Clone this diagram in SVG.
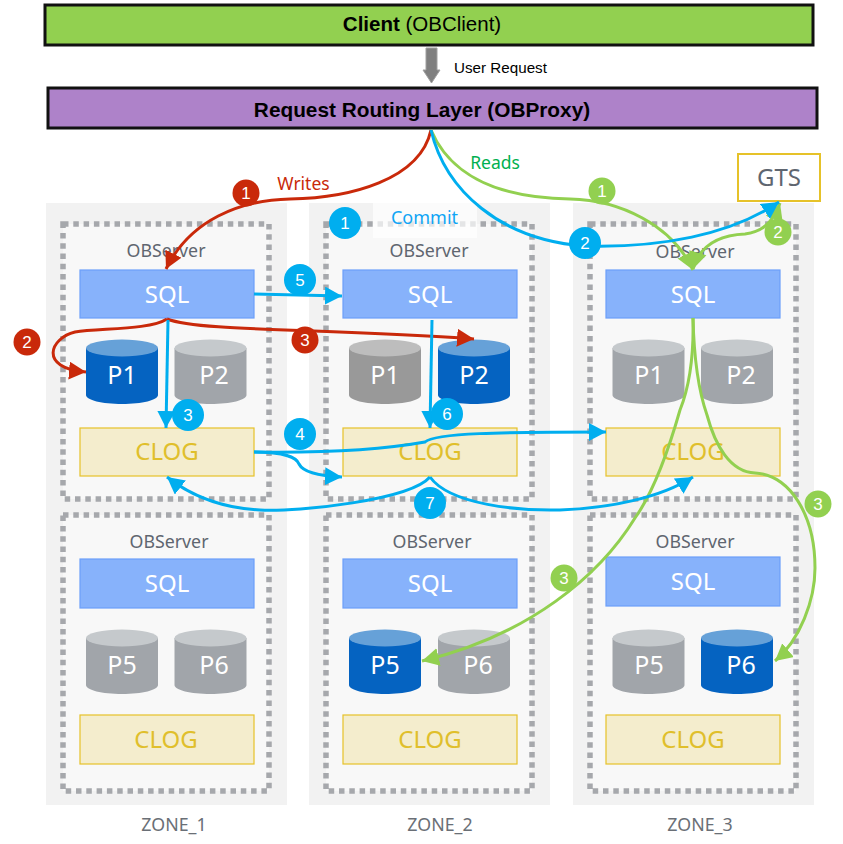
<svg xmlns="http://www.w3.org/2000/svg" width="843" height="844" viewBox="0 0 843 844">
<style>
text{font-family:"Noto Sans","Open Sans","Liberation Sans",sans-serif;text-anchor:middle}
.bar{stroke:#111;stroke-width:3}
.bt{font-family:"Liberation Sans",Arial,sans-serif;fill:#000}
.zone{fill:#f2f2f2}
.srv{fill:#f8f8f8;stroke:#a6a8ac;stroke-width:5.5;stroke-dasharray:5.5 4.8}
.lbl{font-size:17.8px;fill:#5f6670}
.zl{font-size:17.8px;fill:#6a6f76}
.sql{fill:#87b2fb;stroke:#6c9ffa;stroke-width:1.2}
.clog{fill:#f4edcd;stroke:#e6c229;stroke-width:1.2}
.st{font-size:24px;fill:#fff}
.ct{font-size:24px;fill:#e0bf2b}
.pt{font-size:25px;fill:#fff}
.b{fill:var(--b)}.t{fill:var(--t)}
.on{--b:#0563c1;--t:#66a1d8}
.off{--b:#a1a5aa;--t:#c5c9cc}
.dk{--b:#999;--t:#bdbdbd}
.c{fill:none;stroke-width:3}
.r{stroke:#c9290a}.u{stroke:#00aeef}.g{stroke:#92d050}
.n{font-size:17px;fill:#fff;font-family:"Liberation Sans",Arial,sans-serif}
</style>
<defs>
<marker id="mr" markerUnits="userSpaceOnUse" markerWidth="20" markerHeight="20" refX="17" refY="9" orient="auto"><path d="M0 0L17 9L0 18Z" fill="#c9290a"/></marker>
<marker id="mu" markerUnits="userSpaceOnUse" markerWidth="20" markerHeight="20" refX="17" refY="9" orient="auto"><path d="M0 0L17 9L0 18Z" fill="#00aeef"/></marker>
<marker id="mg" markerUnits="userSpaceOnUse" markerWidth="20" markerHeight="20" refX="17" refY="9" orient="auto"><path d="M0 0L17 9L0 18Z" fill="#92d050"/></marker>
<marker id="mgs" markerUnits="userSpaceOnUse" markerWidth="20" markerHeight="20" refX="0" refY="9" orient="auto"><path d="M17 0L0 9L17 18Z" fill="#92d050"/></marker>
<g id="cyl"><path class="b" d="M0 9V56C0 61 16 65 36 65S72 61 72 56V9Z"/><ellipse class="t" cx="36" cy="9" rx="36" ry="8.5"/></g>
</defs>
<g id="client"><rect class="bar" x="45" y="5" width="768" height="40" fill="#92d050"/><text class="bt" x="422" y="31" font-size="20.500"><tspan font-weight="bold">Client</tspan> (OBClient)</text></g>
<g id="proxy"><rect class="bar" x="48" y="88" width="769" height="40" fill="#ae82c9"/><text class="bt" x="422" y="117" font-size="20.800" font-weight="bold">Request Routing Layer (OBProxy)</text></g>
<g id="user-request"><path d="M426 48H437V70H440L431.500 83L423 70H426Z" fill="#7f7f7f" stroke="#a0a0a0"/><text class="bt" x="500.500" y="73" font-size="15.200">User Request</text></g>
<g id="gts"><rect x="738" y="154" width="82" height="47" fill="#fff" stroke="#e6c229" stroke-width="2"/><text x="779" y="186" font-size="24" fill="#5f6670">GTS</text></g>

<g id="zone1"><rect class="zone" x="46" y="203" width="241" height="602"/><text class="zl" x="174" y="831">ZONE_1</text></g>
<g id="zone2"><rect class="zone" x="309" y="203" width="241" height="602"/><text class="zl" x="440" y="831">ZONE_2</text></g>
<g id="zone3"><rect class="zone" x="573" y="203" width="241" height="602"/><text class="zl" x="700" y="831">ZONE_3</text></g>

<g id="z1-s1"><rect class="srv" x="63" y="224" width="206" height="275"/><text class="lbl" x="166" y="257">OBServer</text>
<rect class="sql" x="80" y="270" width="174" height="48"/><text class="st" x="167" y="303">SQL</text>
<use href="#cyl" class="on" x="86" y="339"/><text class="pt" x="122" y="384">P1</text>
<use href="#cyl" class="off" x="174.500" y="339"/><text class="pt" x="214" y="384">P2</text>
<rect class="clog" x="80" y="428" width="174" height="48"/><text class="ct" x="167" y="460">CLOG</text></g>
<g id="z1-s2"><rect class="srv" x="63" y="515" width="206" height="276"/><text class="lbl" x="169" y="548">OBServer</text>
<rect class="sql" x="80" y="559" width="174" height="49"/><text class="st" x="167" y="592">SQL</text>
<use href="#cyl" class="off" x="86" y="629"/><text class="pt" x="122" y="674">P5</text>
<use href="#cyl" class="off" x="174.500" y="629"/><text class="pt" x="214" y="674">P6</text>
<rect class="clog" x="80" y="715" width="174" height="49"/><text class="ct" x="166" y="748">CLOG</text></g>

<g id="z2-s1"><rect class="srv" x="326" y="224" width="206" height="275"/><text class="lbl" x="429" y="257">OBServer</text>
<rect class="sql" x="343" y="270" width="174" height="48"/><text class="st" x="430" y="303">SQL</text>
<use href="#cyl" class="dk" x="349" y="339"/><text class="pt" x="385" y="384">P1</text>
<use href="#cyl" class="on" x="438" y="339"/><text class="pt" x="474" y="384">P2</text>
<rect class="clog" x="343" y="428" width="174" height="48"/><text class="ct" x="430" y="460">CLOG</text></g>
<g id="z2-s2"><rect class="srv" x="326" y="515" width="206" height="276"/><text class="lbl" x="432" y="548">OBServer</text>
<rect class="sql" x="343" y="559" width="174" height="49"/><text class="st" x="430" y="592">SQL</text>
<use href="#cyl" class="on" x="349" y="629"/><text class="pt" x="385" y="674">P5</text>
<use href="#cyl" class="off" x="438" y="629"/><text class="pt" x="478" y="674">P6</text>
<rect class="clog" x="343" y="715" width="174" height="49"/><text class="ct" x="430" y="748">CLOG</text></g>

<g id="z3-s1"><rect class="srv" x="590" y="224" width="206" height="275"/><text class="lbl" x="695" y="258">OBServer</text>
<rect class="sql" x="606" y="270" width="174" height="48"/><text class="st" x="693" y="303">SQL</text>
<use href="#cyl" class="off" x="612.500" y="339"/><text class="pt" x="649" y="384">P1</text>
<use href="#cyl" class="off" x="701" y="339"/><text class="pt" x="741" y="384">P2</text>
<rect class="clog" x="606" y="428" width="174" height="48"/><text class="ct" x="693" y="460">CLOG</text></g>
<g id="z3-s2"><rect class="srv" x="590" y="515" width="206" height="276"/><text class="lbl" x="695" y="548">OBServer</text>
<rect class="sql" x="606" y="557" width="174" height="49"/><text class="st" x="693" y="590">SQL</text>
<use href="#cyl" class="off" x="612.500" y="629"/><text class="pt" x="649" y="674">P5</text>
<use href="#cyl" class="on" x="701" y="629"/><text class="pt" x="741" y="674">P6</text>
<rect class="clog" x="606" y="715" width="174" height="49"/><text class="ct" x="693" y="748">CLOG</text></g>

<g id="commit"><rect x="373" y="203" width="104" height="35" fill="#fff" fill-opacity=".7"/><text x="424.500" y="224" font-size="18" fill="#0fa5f5">Commit</text></g>
<text x="303.500" y="190" font-size="17.500" fill="#c9290a">Writes</text>
<text x="495" y="169" font-size="17.500" fill="#00b050">Reads</text>

<g id="connectors">
<path class="c g" marker-end="url(#mg)" d="M431 130C448 170 490 198 570 199C620 200 672 225 693 270"/>
<path class="c g" marker-start="url(#mgs)" marker-end="url(#mg)" d="M693 269C700 245 720 235 745 234C760 232 772 225 780 203"/>
<path class="c g" marker-end="url(#mg)" d="M693 318C694 360 688 390 680 410C670 445 655 490 635 518C600 575 530 635 422 661"/>
<path class="c g" marker-end="url(#mg)" d="M693 318C694 360 700 395 707 415C715 445 730 472 755 473C790 475 815 515 815 568C815 600 800 640 775 661"/>
<path class="c r" marker-end="url(#mr)" d="M431 130C420 180 350 198 290 199C240 200 190 220 166 269"/>
<path class="c r" marker-end="url(#mr)" d="M167 319C150 330 100 328 75 332C50 338 38 368 86 372"/>
<path class="c r" marker-end="url(#mr)" d="M167 319C200 332 330 328 474 339"/>
<path class="c u" marker-end="url(#mu)" d="M431 130C445 190 500 240 585 246C660 248 730 235 779 202"/>
<path class="c u" marker-end="url(#mu)" d="M168 320L166 428"/>
<path class="c u" marker-end="url(#mu)" d="M254 294L342 296"/>
<path class="c u" marker-end="url(#mu)" d="M254 452C320 453 380 450 425 442C435 433 500 432 606 432"/>
<path class="c u" marker-end="url(#mu)" d="M254 452C285 452 297 458 299 464C303 472 320 476 342 477"/>
<path class="c u" marker-end="url(#mu)" d="M432 320L430 428"/>
<path class="c u" marker-end="url(#mu)" d="M430 477C410 500 300 512 260 510C220 508 190 495 167 477"/>
<path class="c u" marker-end="url(#mu)" d="M430 477C450 505 520 511 560 510C610 508 660 498 693 477"/>
</g>
<g id="badges">
<g fill="#c9290a"><circle cx="246" cy="193" r="13.500"/><circle cx="27" cy="342" r="13.500"/><circle cx="305" cy="340" r="13.500"/></g>
<g fill="#00aeef"><circle cx="345" cy="223" r="16"/><circle cx="300" cy="280" r="16"/><circle cx="188" cy="415" r="16"/><circle cx="300" cy="434" r="16"/><circle cx="447" cy="414" r="16"/><circle cx="430" cy="503" r="16"/><circle cx="585" cy="243" r="16"/></g>
<g fill="#92d050"><circle cx="602" cy="191" r="13.500"/><circle cx="778" cy="232" r="13.500"/><circle cx="564" cy="578" r="13.500"/><circle cx="818" cy="504" r="13.500"/></g>
<text class="n" x="246" y="199">1</text><text class="n" x="27" y="348">2</text><text class="n" x="305" y="346">3</text>
<text class="n" x="345" y="229">1</text><text class="n" x="300" y="286">5</text><text class="n" x="188" y="421">3</text><text class="n" x="300" y="440">4</text><text class="n" x="447" y="420">6</text><text class="n" x="430" y="509">7</text><text class="n" x="585" y="249">2</text>
<text class="n" x="602" y="197">1</text><text class="n" x="778" y="238">2</text><text class="n" x="564" y="584">3</text><text class="n" x="818" y="510">3</text>
</g>
</svg>
